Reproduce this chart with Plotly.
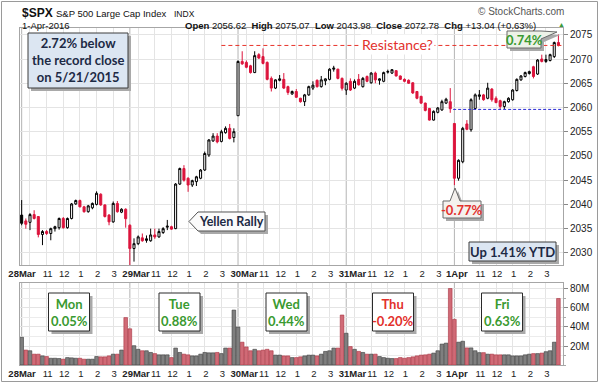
import plotly.graph_objects as go

# ---------------- data (15-minute bars, 28 Mar - 1 Apr 2016) ----------------
days = ["28Mar", "29Mar", "30Mar", "31Mar", "1Apr"]
bars_per_day = 26
prev_close = 2035.94

open_ = [
    2037.8, 2036.6, 2036.3, 2037.9, 2037.5, 2033.8, 2034.4, 2034.0, 2035.0, 2035.2, 2037.1, 2035.2, 2037.1, 2040.1, 2040.8, 2039.5, 2038.5, 2039.3, 2040.0, 2042.1, 2039.9, 2037.8, 2036.4, 2040.2, 2038.4, 2039.0,
    2035.7, 2030.9, 2031.9, 2033.1, 2032.9, 2032.5, 2033.7, 2033.3, 2034.2, 2035.3, 2035.4, 2035.0, 2044.2, 2047.4, 2045.4, 2044.0, 2044.7, 2045.4, 2047.1, 2050.2, 2053.1, 2054.1, 2053.0, 2054.8, 2055.7, 2053.8,
    2058.3, 2069.5, 2069.3, 2068.6, 2067.2, 2070.9, 2070.5, 2069.3, 2066.0, 2064.0, 2065.6, 2065.8, 2064.3, 2062.8, 2063.3, 2061.9, 2061.2, 2062.6, 2064.0, 2065.6, 2064.3, 2065.5, 2065.8, 2067.9, 2067.9, 2066.0,
    2063.6, 2065.4, 2064.0, 2065.8, 2064.3, 2066.4, 2065.1, 2067.1, 2065.6, 2065.4, 2067.3, 2067.1, 2067.6, 2066.5, 2065.8, 2065.6, 2065.1, 2063.3, 2062.3, 2060.9, 2059.8, 2057.4, 2059.0, 2059.5, 2060.9, 2061.2,
    2056.7, 2045.4, 2048.8, 2056.6, 2055.4, 2059.8, 2062.3, 2062.6, 2061.9, 2063.8, 2061.9, 2061.4, 2060.2, 2061.2, 2061.6, 2063.5, 2065.7, 2066.4, 2067.0, 2068.4, 2066.9, 2070.0, 2069.5, 2069.7, 2070.5, 2073.4,
]
high = [
    2040.9, 2037.1, 2038.2, 2038.8, 2037.6, 2034.7, 2034.7, 2035.2, 2035.6, 2037.3, 2037.4, 2037.3, 2040.3, 2041.0, 2041.0, 2039.7, 2039.9, 2040.4, 2042.7, 2042.3, 2040.0, 2038.0, 2040.6, 2040.7, 2039.2, 2039.2,
    2035.9, 2033.0, 2033.6, 2034.0, 2033.6, 2035.0, 2035.0, 2035.0, 2035.3, 2036.8, 2035.6, 2044.4, 2047.6, 2048.1, 2045.6, 2045.1, 2045.9, 2047.3, 2050.9, 2053.5, 2054.7, 2054.7, 2055.4, 2056.1, 2056.6, 2055.7,
    2069.7, 2071.6, 2069.7, 2068.8, 2071.6, 2071.2, 2072.2, 2069.5, 2066.4, 2065.8, 2066.7, 2067.1, 2064.5, 2063.5, 2063.8, 2062.0, 2062.8, 2064.5, 2065.4, 2065.8, 2066.5, 2066.0, 2068.1, 2068.6, 2068.0, 2066.2,
    2065.2, 2066.0, 2065.8, 2066.9, 2066.3, 2066.6, 2067.3, 2067.4, 2066.0, 2067.4, 2067.8, 2067.9, 2067.7, 2066.6, 2066.0, 2065.8, 2065.2, 2063.4, 2062.4, 2061.0, 2059.9, 2059.4, 2060.1, 2061.6, 2062.0, 2064.0,
    2056.8, 2049.3, 2056.0, 2057.4, 2061.9, 2062.9, 2063.6, 2062.8, 2065.1, 2064.0, 2062.3, 2061.6, 2061.4, 2062.1, 2063.8, 2066.0, 2066.7, 2067.4, 2067.6, 2068.6, 2070.0, 2070.9, 2070.9, 2071.1, 2073.6, 2075.07,
]
low = [
    2035.7, 2035.0, 2034.7, 2036.9, 2033.2, 2031.6, 2033.7, 2032.6, 2034.4, 2034.8, 2035.0, 2035.0, 2036.9, 2039.9, 2039.4, 2038.3, 2038.3, 2039.0, 2039.8, 2039.7, 2037.3, 2035.7, 2036.2, 2038.3, 2038.2, 2035.2,
    2027.0, 2028.2, 2031.6, 2032.3, 2032.1, 2032.3, 2032.9, 2033.1, 2033.9, 2034.7, 2034.8, 2034.9, 2044.0, 2044.7, 2042.6, 2043.6, 2043.8, 2045.2, 2046.9, 2049.8, 2052.9, 2052.6, 2052.8, 2054.6, 2053.4, 2052.8,
    2058.3, 2068.8, 2068.1, 2067.0, 2067.1, 2070.0, 2068.9, 2065.6, 2063.3, 2063.8, 2065.4, 2063.8, 2062.6, 2062.6, 2062.0, 2061.0, 2060.3, 2062.4, 2063.6, 2064.1, 2064.1, 2064.6, 2065.6, 2067.4, 2065.8, 2063.5,
    2062.6, 2063.4, 2063.8, 2064.5, 2064.1, 2065.2, 2064.9, 2065.0, 2064.7, 2065.2, 2067.0, 2066.9, 2066.4, 2065.7, 2065.2, 2064.9, 2062.8, 2061.7, 2060.7, 2059.2, 2057.3, 2057.3, 2058.8, 2059.3, 2060.7, 2058.9,
    2043.98, 2044.9, 2048.5, 2055.3, 2055.0, 2059.6, 2061.6, 2061.4, 2061.7, 2061.2, 2060.9, 2059.5, 2059.7, 2061.0, 2061.4, 2063.3, 2065.5, 2066.2, 2066.8, 2066.0, 2066.7, 2069.3, 2069.2, 2069.5, 2070.2, 2072.6,
]
close = [
    2036.1, 2035.9, 2037.9, 2037.1, 2033.8, 2034.4, 2034.0, 2035.0, 2035.4, 2037.1, 2035.2, 2037.1, 2040.1, 2040.8, 2039.5, 2038.5, 2039.7, 2040.2, 2042.3, 2039.9, 2037.5, 2036.4, 2040.2, 2038.5, 2039.0, 2037.05,
    2030.9, 2031.9, 2033.3, 2032.5, 2032.6, 2033.7, 2033.3, 2034.4, 2035.0, 2035.5, 2034.9, 2044.2, 2047.4, 2045.0, 2044.0, 2044.9, 2045.7, 2047.1, 2050.5, 2053.3, 2054.1, 2052.9, 2055.0, 2055.7, 2053.6, 2055.01,
    2069.5, 2069.0, 2068.3, 2067.2, 2070.7, 2070.2, 2069.1, 2065.8, 2064.0, 2065.7, 2065.9, 2064.0, 2063.1, 2063.3, 2062.1, 2061.2, 2062.6, 2064.3, 2064.6, 2064.3, 2065.7, 2065.9, 2067.9, 2068.1, 2066.0, 2063.95,
    2065.0, 2063.6, 2065.4, 2064.7, 2066.0, 2065.4, 2067.1, 2065.7, 2065.9, 2067.2, 2067.4, 2067.8, 2066.5, 2065.8, 2065.4, 2065.0, 2063.0, 2061.9, 2060.9, 2059.4, 2057.4, 2059.2, 2059.9, 2061.2, 2061.7, 2059.74,
    2045.4, 2049.1, 2055.7, 2055.5, 2061.6, 2062.6, 2062.6, 2061.6, 2064.0, 2061.6, 2061.0, 2060.2, 2061.2, 2061.9, 2063.6, 2065.8, 2066.5, 2067.2, 2067.4, 2066.4, 2069.8, 2069.5, 2069.9, 2070.9, 2073.4, 2072.78,
]
volume_m = [
    29.2, 15.7, 15.0, 11.4, 11.4, 9.6, 8.9, 7.1, 7.1, 6.8, 6.1, 7.8, 7.5, 7.1, 7.1, 6.1, 6.1, 6.1, 8.9, 8.6, 8.6, 9.6, 11.4, 11.4, 15.7, 49.9,
    38.1, 20.3, 16.5, 15.0, 15.0, 13.2, 12.0, 10.7, 10.7, 10.7, 7.8, 17.8, 13.2, 11.4, 10.7, 9.6, 9.6, 11.4, 13.2, 12.8, 12.8, 13.2, 12.0, 17.8, 17.8, 57.8,
    40.0, 24.0, 19.0, 15.0, 16.5, 15.0, 15.7, 16.5, 15.0, 10.4, 10.4, 9.6, 9.6, 7.8, 7.8, 8.6, 9.6, 10.4, 10.4, 9.6, 11.4, 14.3, 15.0, 17.8, 17.8, 52.6,
    33.4, 19.4, 16.5, 14.3, 13.2, 11.4, 11.4, 11.4, 8.9, 7.8, 7.1, 6.8, 6.8, 7.8, 7.1, 7.8, 8.6, 9.6, 10.4, 10.7, 11.4, 12.5, 15.0, 22.0, 23.0, 80.5,
    48.0, 24.0, 25.0, 18.0, 18.0, 15.0, 13.0, 13.0, 11.4, 11.4, 10.7, 10.7, 10.7, 10.7, 9.6, 9.6, 9.6, 10.7, 11.4, 12.0, 12.0, 12.5, 14.0, 15.0, 24.0, 70.0,
]
day_names = ["Mon", "Tue", "Wed", "Thu", "Fri"]
day_changes = ["0.05%", "0.88%", "0.44%", "-0.20%", "0.63%"]
hour_labels = ["11", "12", "1", "2", "3"]
hours_24 = [11, 12, 13, 14, 15]
price_ticks = [2030, 2035, 2040, 2045, 2050, 2055, 2060, 2065, 2070, 2075]
volume_ticks = [20, 40, 60, 80]
resistance_level = 2072.8
support_level = 2059.6

# ---------------- derived ----------------
n = len(close)
x = list(range(n))
prev = [prev_close] + close[:-1]
is_up = [c >= p for c, p in zip(close, prev)]

RED = "#dc143c"
BLACK = "#000000"


def bar_of(h, m=0):
    return (h * 60 + m - (9 * 60 + 30)) / 15.0


grid_pos = []
for d in range(len(days)):
    base = d * bars_per_day
    grid_pos += [base + bar_of(10)] + [base + bar_of(h) for h in hours_24]

label_pos, label_txt = [], []
day_label_shift = [0.1, 1.5, 1.5, 1.5, 0.6]
for d, name in enumerate(days):
    base = d * bars_per_day
    label_pos.append(base + day_label_shift[d])
    label_txt.append("<b>%s</b>" % name)
    for h, t in zip(hours_24, hour_labels):
        label_pos.append(base + bar_of(h) + 0.25)
        label_txt.append(t)

# ---------------- pixel helpers ----------------
W, H = 600, 383
L, R, T, B = 20, 563, 28, 365
X_RANGE = [-0.4, 130.1]


def PX(px):
    return (px - L) / (R - L)


def PY(py):
    return (B - py) / (B - T)


def path(points):
    return "M " + " L ".join("%.5f,%.5f" % (PX(a), PY(b)) for a, b in points) + " Z"


fig = go.Figure()

sel_b = [i for i in x if is_up[i]]
sel_r = [i for i in x if not is_up[i]]

fig.add_trace(go.Candlestick(
    x=sel_b, open=[open_[i] for i in sel_b], high=[high[i] for i in sel_b],
    low=[low[i] for i in sel_b], close=[close[i] for i in sel_b],
    increasing=dict(line=dict(color=BLACK, width=1), fillcolor="white"),
    decreasing=dict(line=dict(color=BLACK, width=1), fillcolor=BLACK),
    whiskerwidth=0, showlegend=False, hoverinfo="skip", xaxis="x", yaxis="y"))
fig.add_trace(go.Candlestick(
    x=sel_r, open=[open_[i] for i in sel_r], high=[high[i] for i in sel_r],
    low=[low[i] for i in sel_r], close=[close[i] for i in sel_r],
    increasing=dict(line=dict(color=RED, width=1), fillcolor="white"),
    decreasing=dict(line=dict(color=RED, width=1), fillcolor=RED),
    whiskerwidth=0, showlegend=False, hoverinfo="skip", xaxis="x", yaxis="y"))

fig.add_trace(go.Bar(
    x=x, y=volume_m,
    marker=dict(color=["#7f7f7f" if u else "#d06a76" for u in is_up],
                line=dict(color=["#3a3a3a" if u else "#a8323f" for u in is_up], width=0.6)),
    showlegend=False, hoverinfo="skip", xaxis="x2", yaxis="y2"))

axis_font = dict(family="Arial, Liberation Sans, sans-serif", size=9.5, color="#222")
xcommon = dict(range=X_RANGE, tickmode="array", tickvals=label_pos, ticktext=label_txt,
               tickangle=0, automargin=False,
               showgrid=False, zeroline=False, ticks="", tickfont=axis_font,
               showline=True, mirror=True, linecolor="#a6a6a6", linewidth=1,
               minor=dict(tickmode="array", tickvals=grid_pos, showgrid=True,
                          gridcolor="#e4e4e4", gridwidth=1, ticks=""))
yfont = dict(family="Arial, Liberation Sans, sans-serif", size=10, color="#222")

fig.update_layout(
    width=W, height=H, margin=dict(l=L, r=W - R, t=T, b=H - B, autoexpand=False),
    paper_bgcolor="white", plot_bgcolor="white", showlegend=False, bargap=0.12,
    xaxis=dict(domain=[0, 1], anchor="y", rangeslider=dict(visible=False), **xcommon),
    yaxis=dict(domain=[PY(265), 1], side="right", range=[2027.5, 2076.4], automargin=False,
               tickmode="array", tickvals=price_ticks, showgrid=True, gridcolor="#e4e4e4",
               zeroline=False, ticks="outside", ticklen=4, tickcolor="#888",
               tickfont=yfont, showline=True, mirror=True, linecolor="#a6a6a6"),
    xaxis2=dict(domain=[0, 1], anchor="y2", matches="x", **xcommon),
    yaxis2=dict(domain=[0, PY(283)], side="right", range=[0, 86.3], automargin=False,
                tickmode="array", tickvals=volume_ticks,
                ticktext=["%dM" % v for v in volume_ticks],
                showgrid=True, gridcolor="#e4e4e4", zeroline=False,
                ticks="outside", ticklen=4, tickcolor="#888", tickfont=yfont,
                showline=True, mirror=True, linecolor="#a6a6a6",
                minor=dict(dtick=10, showgrid=True, gridcolor="#ececec", ticks="outside",
                           ticklen=2, tickcolor="#aaa")),
)

shapes = []
# day separator lines
for d in range(len(days)):
    for xr, yr in (("x", "y domain"), ("x2", "y2 domain")):
        shapes.append(dict(type="line", xref=xr, yref=yr, x0=d * bars_per_day, x1=d * bars_per_day,
                           y0=0, y1=1, line=dict(color="#b4b4b4", width=1), layer="below"))
# resistance & support lines
shapes.append(dict(type="line", xref="x", yref="y", x0=48, x1=X_RANGE[1],
                   y0=resistance_level, y1=resistance_level,
                   line=dict(color="#e8322a", width=1, dash="4px,3px")))
shapes.append(dict(type="line", xref="x", yref="y", x0=103.7, x1=X_RANGE[1],
                   y0=support_level, y1=support_level,
                   line=dict(color="#2b2bd6", width=1, dash="3px,2px")))

SHADOW = "#a9a9a9"


def box(x0, y0, x1, y1, fill, line="#3c3c3c", shadow=True):
    if shadow:
        shapes.append(dict(type="rect", xref="paper", yref="paper", x0=PX(x0 + 3), x1=PX(x1 + 3),
                           y0=PY(y0 + 3), y1=PY(y1 + 3), fillcolor=SHADOW, line=dict(width=0)))
    shapes.append(dict(type="rect", xref="paper", yref="paper", x0=PX(x0), x1=PX(x1),
                       y0=PY(y0), y1=PY(y1), fillcolor=fill, line=dict(color=line, width=1)))


def poly(points, fill, line="#3c3c3c", shadow=True):
    if shadow:
        shapes.append(dict(type="path", xref="paper", yref="paper",
                           path=path([(a + 3, b + 3) for a, b in points]),
                           fillcolor=SHADOW, line=dict(width=0)))
    shapes.append(dict(type="path", xref="paper", yref="paper", path=path(points),
                       fillcolor=fill, line=dict(color=line, width=1)))


# annotation boxes
box(28, 33, 128, 88, "#dce6f2")
poly([(189, 221.5), (198, 212), (265, 212), (265, 231), (198, 231)], "#fbfbfb", "#555555")
poly([(507, 31), (541, 31), (557, 32), (541, 39), (541, 48), (507, 48)], "#edf2e8", "#6a6a6a")
poly([(443, 201), (450, 201), (455, 188), (460, 201), (481, 201), (481, 218), (443, 218)],
     "#f4f1ee", "#6a6a6a")
box(469, 242, 556, 261, "#dce6f2")
vol_box_centers = [69, 179.5, 286.5, 393, 502]
for cx in vol_box_centers:
    box(cx - 20.5, 293, cx + 20.5, 331, "white", "#2a2a2a")

# figure frame
shapes.append(dict(type="rect", xref="paper", yref="paper", x0=PX(1.5), x1=PX(597.5),
                   y0=PY(1.5), y1=PY(381.5), line=dict(color="#9a9a9a", width=1),
                   fillcolor="rgba(0,0,0,0)", layer="below"))
fig.update_layout(shapes=shapes)

CAL = "Lato, Open Sans, sans-serif"
ARIAL = "Arial, Liberation Sans, sans-serif"
NAVY = "#1d2a45"
GREEN = "#3a9a30"
TRED = "#e2302c"
ann = []


def text(px_, py_, t, size, color, family=CAL, xanchor="center", bg=None):
    d = dict(xref="paper", yref="paper", x=PX(px_), y=PY(py_), text=t, showarrow=False,
             xanchor=xanchor, yanchor="middle", font=dict(family=family, size=size, color=color))
    if bg:
        d["bgcolor"] = bg
    ann.append(d)


# header
text(20, 13, "<b>$SPX</b>", 12, "#111", ARIAL, "left")
text(54, 13.5, "S&P 500 Large Cap Index", 9.5, "#111", ARIAL, "left")
text(172, 13.5, "INDX", 8.5, "#111", ARIAL, "left")
text(20, 25, "1-Apr-2016", 9.5, "#111", ARIAL, "left")
nb = "\u00a0"
stats = (f"<b>Open</b> 2056.62{nb}{nb}<b>High</b> 2075.07{nb}{nb}<b>Low</b> 2043.98{nb}{nb}"
         f"<b>Close</b> 2072.78{nb}{nb}<b>Chg</b> +13.04 (+0.63%)")
text(183, 25, stats, 9.5, "#111", ARIAL, "left")
text(561, 24, "▲", 7, "#3c9a3c", ARIAL)
text(566, 12, "© StockCharts.com", 10, "#555", ARIAL, "right")

# chart annotations
text(78, 60, "<b>2.72% below<br>the record close<br>on 5/21/2015</b>", 13, NAVY)
text(397.5, 45, "Resistance?", 14, TRED, bg="white")
text(231, 221.5, "<b>Yellen Rally</b>", 12.5, NAVY)
text(524, 39.5, "<b>0.74%</b>", 13, GREEN)
text(462, 209.5, "<b>-0.77%</b>", 13, TRED)
text(512.5, 251.5, "<b>Up 1.41% YTD</b>", 13, NAVY)
for cx, nm, ch in zip(vol_box_centers, day_names, day_changes):
    col = TRED if ch.startswith("-") else GREEN
    text(cx, 312, "<b>%s<br>%s</b>" % (nm, ch), 13, col)

fig.update_layout(annotations=ann)
fig.write_html("out.html", config={"displayModeBar": False},
               post_script="document.body.style.margin='0px';document.body.style.overflow='hidden';")
